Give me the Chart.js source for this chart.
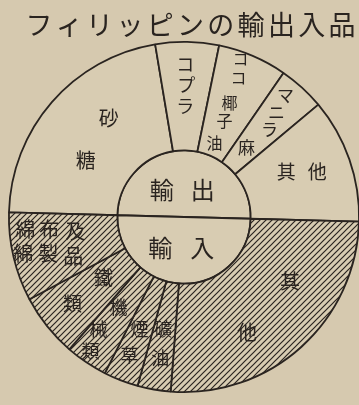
<!DOCTYPE html>
<html><head><meta charset="utf-8">
<script src="https://cdn.jsdelivr.net/npm/chart.js@4/dist/chart.umd.min.js"></script>
<style>
html,body{margin:0;padding:0;background:#d6c9af;overflow:hidden;width:359px;height:405px;}
canvas{display:block;}
</style></head><body>
<canvas id="c" width="372" height="405"></canvas>
<script>
// ---- data ----
const chartTitle = 'フィリッピンの輸出入品';
const exportLabels = ['砂糖', 'コプラ', 'ココ椰子油', 'マニラ麻', '其他'];
const exportValues = [43.9, 11.7, 12.8, 8.6, 23.0];           // % of exports
const importLabels = ['其他', '礦油', '煙草', '機械類', '鐵類', '綿布及綿製品'];
const importValues = [51.6, 6.1, 6.4, 7.8, 11.7, 16.4];       // % of imports
const centerLabels = ['輸出', '輸入'];
const centerValues = [100, 100];

// ---- style ----
const INK = '#2a2420';
const PAPER = '#d8ccb2';
const FONT = '"Noto Sans CJK JP", "Noto Sans CJK SC", sans-serif';

function hatchPattern() {
  const c = document.createElement('canvas');
  c.width = 6; c.height = 6;
  const x = c.getContext('2d');
  x.fillStyle = PAPER; x.fillRect(0, 0, 6, 6);
  x.strokeStyle = INK; x.lineWidth = 1.2;
  x.beginPath();
  x.moveTo(-1, 7); x.lineTo(7, -1);
  x.moveTo(-1, 1); x.lineTo(1, -1);
  x.moveTo(5, 7); x.lineTo(7, 5);
  x.stroke();
  return x.createPattern(c, 'repeat');
}
const HATCH = hatchPattern();

// character placement offsets (px) relative to each slice's centre point, and font size
const outerLayout = {
  '砂糖': {size: 20, off: [[16, -19], [-7, 23]]},
  'コプラ': {size: 18, off: [[-1, -32], [0, -11], [-1, 10]]},
  'ココ椰子油': {size: 16, off: [[9, -47], [7, -28], [-2, -3], [-7, 15], [-17, 37]]},
  'マニラ麻': {size: 17, off: [[20, -32], [11, -15], [4, 2], [-19, 20]]},
  'exp其他': {size: 19, off: [[-12, -5], [19, -5]]},
  'imp其他': {size: 20, off: [[25, -25], [-18, 26]]},
  '礦油': {size: 18, off: [[0, -7], [-3, 22]]},
  '煙草': {size: 18, off: [[-1, -1], [-11, 25]]},
  '機械類': {size: 18, off: [[2, -10], [-18, 12], [-26, 34]]},
  '鐵類': {size: 19, off: [[14, -15], [-17, 11]]},
  '綿布及綿製品': {size: 20, off: [[-41, -15], [-17, -15], [9, -13], [-43, 9], [-18, 9], [7, 12]]}
};
const innerLayout = {
  '輸出': {size: 24, off: [[-23, 6], [18, 6]]},
  '輸入': {size: 24, off: [[-23, -2], [19, -2]]}
};

const outerLabels = exportLabels.map(l => l === '其他' ? 'exp其他' : l)
  .concat(importLabels.map(l => l === '其他' ? 'imp其他' : l));
const outerText = exportLabels.concat(importLabels);

const labelPlugin = {
  id: 'labels',
  afterDatasetsDraw(chart) {
    const ctx = chart.ctx;
    ctx.save();
    ctx.fillStyle = INK;
    ctx.textAlign = 'center';
    ctx.textBaseline = 'middle';
    const draw = (meta, keys, texts, layout) => {
      meta.data.forEach((arc, i) => {
        const p = arc.getCenterPoint();
        const lay = layout[keys[i]];
        if (!lay) return;
        ctx.font = lay.size + 'px ' + FONT;
        [...texts[i]].forEach((ch, k) => {
          const o = lay.off[k];
          ctx.fillText(ch, p.x + o[0], p.y + o[1]);
        });
      });
    };
    draw(chart.getDatasetMeta(0), outerLabels, outerText, outerLayout);
    draw(chart.getDatasetMeta(1), centerLabels, centerLabels, innerLayout);
    // title
    ctx.font = '27px ' + FONT;
    [...chartTitle].forEach((ch, k) => ctx.fillText(ch, 39 + k * 30.3, 25));
    ctx.restore();
  }
};

new Chart(document.getElementById('c'), {
  type: 'doughnut',
  data: {
    labels: outerText,
    datasets: [
      {
        data: exportValues.concat(importValues),
        backgroundColor: exportValues.map(() => PAPER).concat(importValues.map(() => HATCH)),
        borderColor: INK,
        borderWidth: 1.8,
        weight: 109
      },
      {
        data: centerValues,
        backgroundColor: [PAPER, PAPER],
        borderColor: INK,
        borderWidth: 1.8,
        weight: 67
      }
    ]
  },
  options: {
    responsive: false,
    animation: false,
    devicePixelRatio: 1,
    cutout: 0,
    rotation: -88.5,
    layout: {padding: {left: 8, top: 41, right: 12, bottom: 12}},
    plugins: {legend: {display: false}, tooltip: {enabled: false}, title: {display: false}},
    events: []
  },
  plugins: [labelPlugin]
});
</script>
</body></html>
